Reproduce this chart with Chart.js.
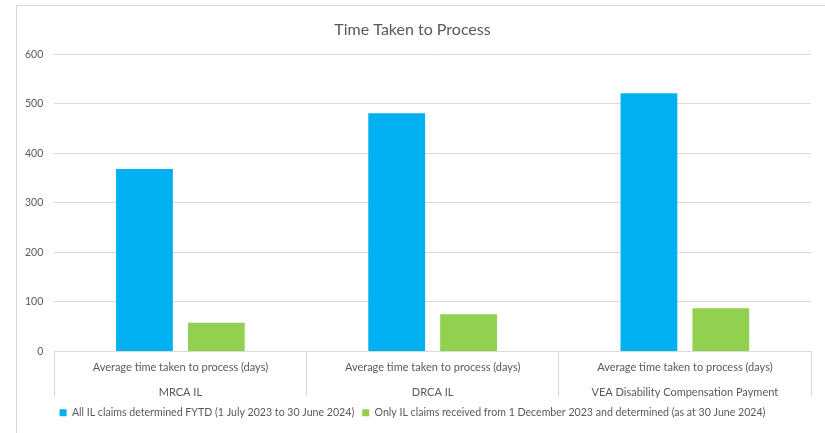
<!DOCTYPE html>
<html>
<head>
<meta charset="utf-8">
<script src="https://cdn.jsdelivr.net/npm/chart.js@4/dist/chart.umd.min.js"></script>
<style>
  html, body { margin: 0; padding: 0; background: #fff; }
  #wrap { width: 825px; height: 433px; position: relative; }
</style>
</head>
<body>
<div id="wrap"><canvas id="chart"></canvas></div>
<script>
// Data
const measure = "Average time taken to process (days)";
const schemes = ["MRCA IL", "DRCA IL", "VEA Disability Compensation Payment"];
const allClaims = [368, 481, 521];
const recentClaims = [58, 75, 87];
const seriesNames = [
  "All IL claims determined FYTD (1 July 2023 to 30 June 2024)",
  "Only IL claims received from 1 December 2023 and determined (as at 30 June 2024)"
];
const yTicks = [0, 100, 200, 300, 400, 500, 600];

const FONT = "Lato, 'Liberation Sans', sans-serif";
const TEXT = "#595959";
const LINE = "#d9d9d9";

// outer chart frame (only left and top edges visible in the crop)
const frame = {
  id: "frame",
  beforeDraw(chart) {
    const { ctx } = chart;
    ctx.save();
    ctx.strokeStyle = LINE;
    ctx.lineWidth = 1;
    ctx.strokeRect(16.5, 5.5, 1000, 1000);
    ctx.restore();
  }
};

new Chart(document.getElementById("chart").getContext("2d"), {
  type: "bar",
  data: {
    labels: schemes.map(s => [measure, s]),
    datasets: [
      { label: seriesNames[0], data: allClaims, backgroundColor: "#00b0f0" },
      { label: seriesNames[1], data: recentClaims, backgroundColor: "#92d050" }
    ]
  },
  options: {
    responsive: true,
    maintainAspectRatio: false,
    animation: false,
    categoryPercentage: 0.57,
    barPercentage: 0.79,
    layout: { padding: { left: 14, right: 14, top: 15, bottom: 5 } },
    scales: {
      x: {
        grid: { offset: true, drawOnChartArea: false, tickLength: 45, color: LINE },
        border: { display: true, color: LINE },
        ticks: {
          color: TEXT, font: { family: FONT, size: 11, lineHeight: 2.3 },
          maxRotation: 0, autoSkip: false, padding: -42
        },
        afterFit(s) { s.height = 48; }
      },
      y: {
        min: 0, max: 600,
        afterBuildTicks(s) { s.ticks = yTicks.map(v => ({ value: v })); },
        grid: { color: LINE, drawTicks: false },
        border: { display: false },
        ticks: { color: TEXT, font: { family: FONT, size: 10.5 }, padding: 11 }
      }
    },
    plugins: {
      title: {
        display: true, text: "Time Taken to Process", color: TEXT,
        font: { family: FONT, size: 16, weight: "normal" },
        padding: { top: 5, bottom: 15 }
      },
      legend: {
        position: "bottom",
        labels: {
          color: TEXT, font: { family: FONT, size: 10.6 },
          boxWidth: 7, boxHeight: 7, padding: 8
        }
      },
      tooltip: { enabled: false }
    }
  },
  plugins: [frame]
});
</script>
</body>
</html>
